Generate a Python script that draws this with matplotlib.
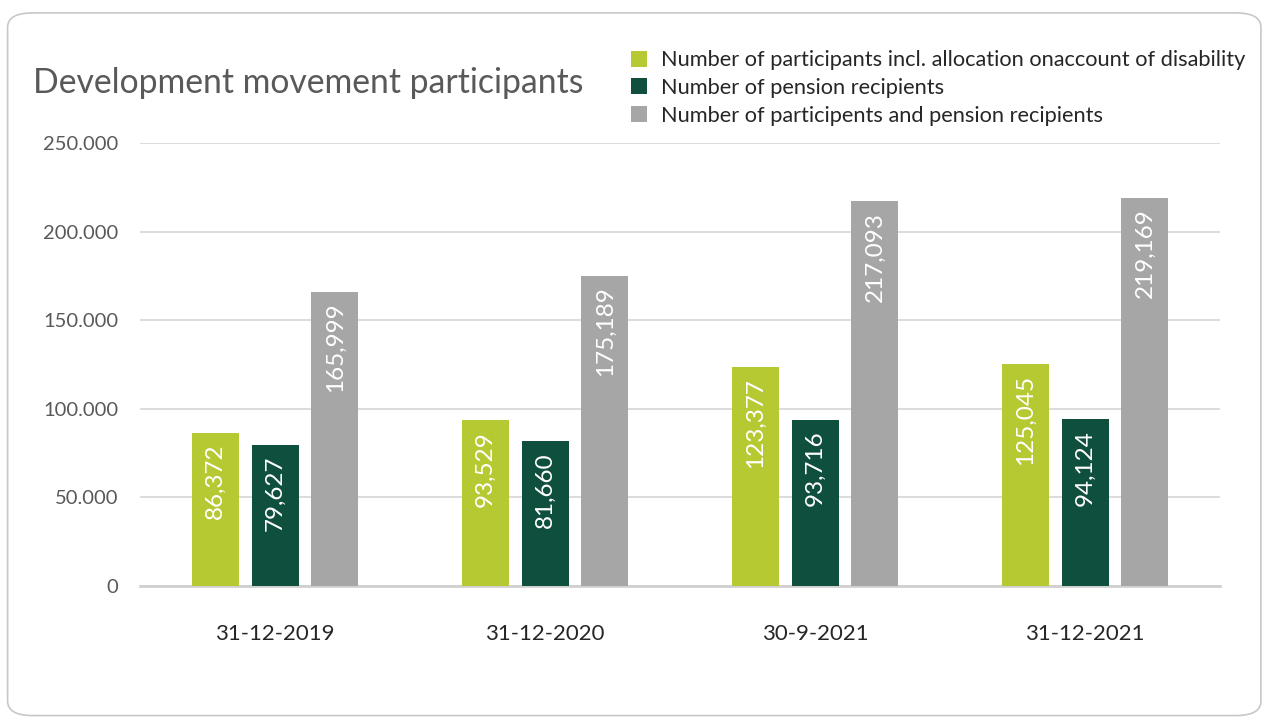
import numpy as np
import matplotlib.pyplot as plt
from matplotlib.patches import FancyBboxPatch, Patch

dates = ["31-12-2019", "31-12-2020", "30-9-2021", "31-12-2021"]
participants = [86372, 93529, 123377, 125045]
pensioners = [79627, 81660, 93716, 94124]
total = [165999, 175189, 217093, 219169]

series_names = ["Number of participants incl. allocation onaccount of disability",
                "Number of pension recipients",
                "Number of participents and pension recipients"]
colors = ["#b6c932", "#0f4f3d", "#a6a6a6"]

plt.rcParams['font.family'] = ['Lato', 'DejaVu Sans']

fig = plt.figure(figsize=(12.66, 7.17), dpi=100)
fig.patches.append(FancyBboxPatch((0.006, 0.002), 0.99, 0.98,
                                  boxstyle="round,pad=0,rounding_size=0.02",
                                  transform=fig.transFigure, facecolor="white",
                                  edgecolor="#c8c8c8", linewidth=1.2, zorder=-1))

ax = fig.add_axes([0.1106, 0.1827, 0.8531, 0.6179])
ax.set_facecolor("none")

x = np.arange(len(dates))
w = 0.174
off = 0.222
for i, vals in enumerate([participants, pensioners, total]):
    bars = ax.bar(x + (i - 1) * off, vals, width=w, color=colors[i], label=series_names[i], zorder=3)
    for b, v in zip(bars, vals):
        ax.text(b.get_x() + b.get_width() / 2, v - 6000, f"{v:,}", rotation=90,
                ha="center", va="top", color="white", fontsize=17.5, zorder=4)

ax.set_xlim(-0.5, 3.5)
ax.set_ylim(0, 250000)
ax.set_yticks([0, 50000, 100000, 150000, 200000, 250000])
ax.set_yticklabels(["0", "50.000", "100.000", "150.000", "200.000", "250.000"])
ax.set_xticks(x)
ax.set_xticklabels(dates)
ax.tick_params(axis="y", length=0, pad=15.5, labelsize=14.5, labelcolor="#595959")
ax.tick_params(axis="x", length=0, pad=27, labelsize=16, labelcolor="#262626")
ax.grid(axis="y", color="#d9d9d9", linewidth=1.3, zorder=0)
for s in ["top", "right", "left"]:
    ax.spines[s].set_visible(False)
ax.spines["bottom"].set_color("#d0d0d0")
ax.spines["bottom"].set_linewidth(2)

fig.text(0.026, 0.884, "Development movement participants", fontsize=24.3, color="#595959",
         ha="left", va="center")

handles = [Patch(facecolor=c) for c in colors]
fig.legend(handles, series_names, loc="upper left", bbox_to_anchor=(0.483, 0.957),
           frameon=False, fontsize=15.7, handlelength=0.75, handleheight=0.75,
           handletextpad=0.6, labelspacing=0.35, labelcolor="#262626")

fig.savefig("out.png", dpi=100)
